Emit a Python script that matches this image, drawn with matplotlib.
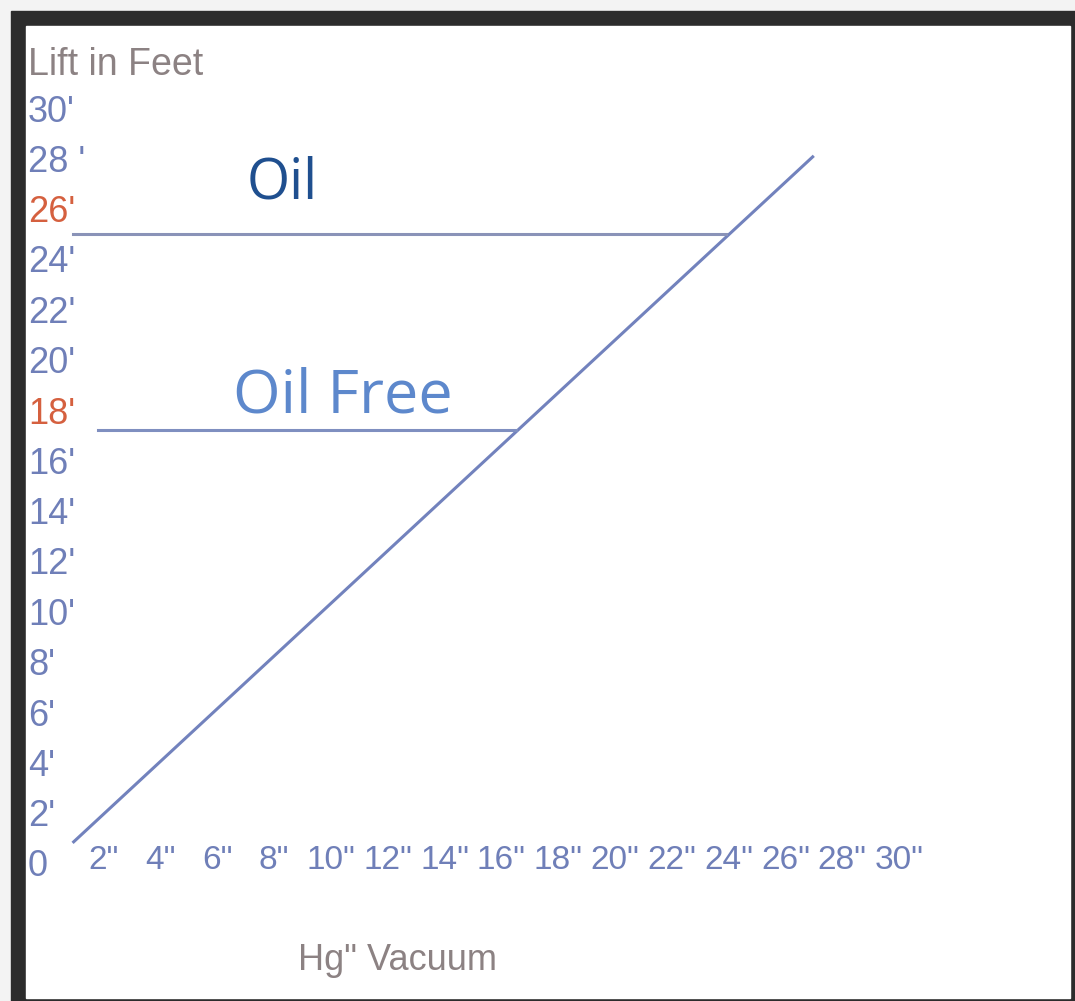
import matplotlib
matplotlib.use('Agg')
from matplotlib import pyplot as plt
from matplotlib.patches import Rectangle

# lift in feet vs inches of mercury vacuum
lift_ft = [0, 2, 4, 6, 8, 10, 12, 14, 16, 18, 20, 22, 24, 26, 28, 30]
lift_labels = ["0", "2'", "4'", "6'", "8'", "10'", "12'", "14'", "16'", "18'",
               "20'", "22'", "24'", "26'", "28 '", "30'"]
vacuum_in = [2, 4, 6, 8, 10, 12, 14, 16, 18, 20, 22, 24, 26, 28, 30]
vacuum_labels = [f'{v}"' for v in vacuum_in]
highlight = ["18'", "26'"]

# diagonal: lift vs vacuum
line_x = [0.9, 27.0]
line_y = [0.8, 28.1]
# pump limits
oil_x = [0.9, 23.9]
oil_y = [25.0, 25.0]
oilfree_x = [1.8, 16.5]
oilfree_y = [17.2, 17.2]

W, H = 1075, 1001
fig = plt.figure(figsize=(W / 100, H / 100), dpi=100, facecolor='#f3f3f3')

# dark frame + white page
fig.patches.append(Rectangle((11 / W, 0), 1 - 11 / W, 1 - 11 / H,
                             transform=fig.transFigure, color='#2c2c2c', zorder=-2))
fig.patches.append(Rectangle((26 / W, 3 / H), (1070 - 26) / W, (998 - 26) / H,
                             transform=fig.transFigure, color='white', zorder=-1))

ax = fig.add_axes([47 / W, (H - 863) / H, 852 / W, 755 / H])
ax.set_zorder(2)
ax.set_facecolor('none')
ax.set_xlim(0, 30)
ax.set_ylim(0, 30)
for s in ax.spines.values():
    s.set_visible(False)

lab_font = ['Liberation Sans Narrow', 'Liberation Sans']
ax.set_yticks(lift_ft)
ax.set_yticklabels(lift_labels, fontsize=26, family=lab_font)
ax.tick_params(axis='y', length=0, pad=13.7)
for lab in ax.get_yticklabels():
    lab.set_ha('left')
    lab.set_color('#d5603f' if lab.get_text() in highlight else '#6f7fb8')

ax.set_xticks(vacuum_in)
ax.set_xticklabels(vacuum_labels, fontsize=24, family=lab_font, color='#6f7fb8')
ax.tick_params(axis='x', length=0, pad=-13)

ax.plot(line_x, line_y, color='#7282bd', lw=2.2, solid_capstyle='butt')
ax.plot(oil_x, oil_y, color='#8a93b8', lw=2.2)
ax.plot(oilfree_x, oilfree_y, color='#7f8fc0', lw=2.2)

ax.text(7.04, 26.4, 'Oil', fontsize=40, family='Open Sans', color='#1f4f8f', va='baseline')
ax.text(6.55, 17.9, 'Oil Free', fontsize=44, family='Open Sans', color='#5d88cc', va='baseline')

fig.text(28 / W, 1 - 75 / H, 'Lift in Feet', fontsize=27, family='Liberation Sans',
         color='#8c8283', va='baseline')
fig.text(398 / W, 1 - 960 / H, 'Hg" Vacuum', fontsize=26, family='Liberation Sans',
         color='#8c8283', ha='center', va='center')

plt.savefig('out.png', dpi=100, facecolor=fig.get_facecolor())
